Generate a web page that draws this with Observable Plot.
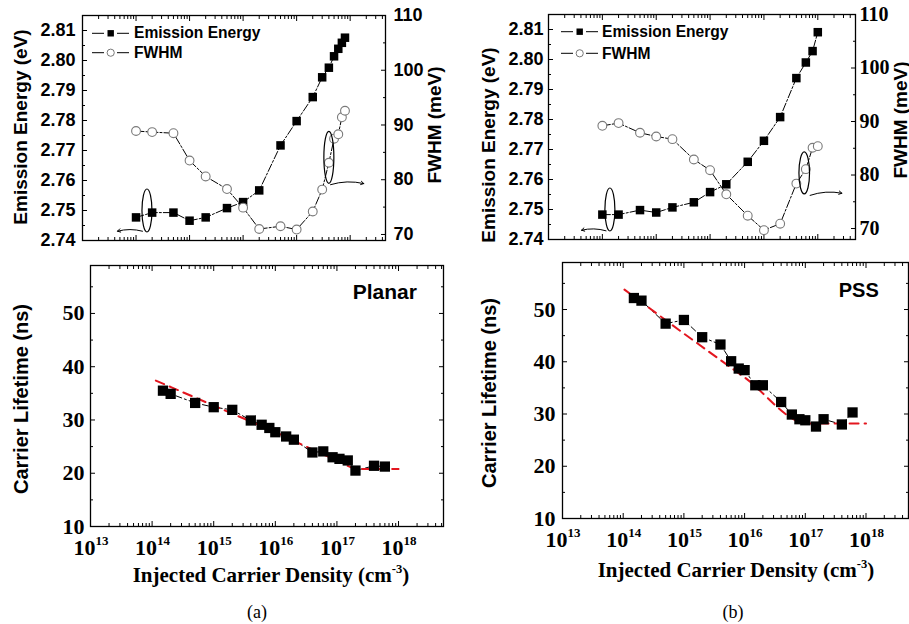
<!DOCTYPE html>
<html><head><meta charset="utf-8">
<script src="https://cdn.jsdelivr.net/npm/d3@7"></script>
<script src="https://cdn.jsdelivr.net/npm/@observablehq/plot@0.6"></script>
<style>
body{margin:0;background:#fff;}
#root{position:relative;width:909px;height:624px;overflow:hidden;background:#fff;}
#root svg{position:absolute;}
.t{position:absolute;white-space:nowrap;color:#000;line-height:1;}
.sans{font-family:"Liberation Sans",Arial,sans-serif;font-weight:bold;}
.serif{font-family:"Liberation Serif","Times New Roman",serif;font-weight:bold;}
.reg{font-family:"Liberation Serif","Times New Roman",serif;font-weight:normal;}
.rot{transform:translate(-50%,-50%) rotate(-90deg);}
.ctr{transform:translate(-50%,-50%);}
sup{font-size:60%;vertical-align:0.7em;line-height:0;}
</style></head><body><div id="root"></div>
<script>
// ---------- data ----------
const densityTopA = [1e14,2e14,5e14,1e15,2e15,5e15,1e16,2e16,5e16,1e17,2e17,3e17,4e17,5e17,6e17,7e17,8e17];
const energyA = [2.7477,2.7493,2.7493,2.7466,2.7477,2.7508,2.7528,2.7567,2.7717,2.7798,2.7878,2.7944,2.7976,2.8014,2.8039,2.8059,2.8076];
const fwhmA = [88.9,88.7,88.5,83.5,80.6,78.3,74.9,71.0,71.5,70.9,74.2,78.2,83.1,87.5,88.3,91.4,92.6];

const densityTopB = [1e14,2e14,5e14,1e15,2e15,5e15,1e16,2e16,5e16,1e17,2e17,4e17,6e17,8e17,1e18];
const energyB = [2.7483,2.7483,2.7498,2.7490,2.7507,2.7524,2.7558,2.7584,2.7659,2.7729,2.7808,2.7938,2.7990,2.8028,2.8091];
const fwhmB = [89.2,89.7,87.9,87.2,86.7,82.9,80.9,76.4,72.4,69.7,70.9,78.4,81.1,85.1,85.4];

const densityBotA = [1.5e14,2e14,5e14,1e15,2e15,4e15,6e15,8e15,1e16,1.5e16,2e16,4e16,6e16,8.5e16,1.1e17,1.5e17,2e17,4e17,6e17];
const lifetimeA = [35.5,34.9,33.2,32.4,31.9,29.9,29.1,28.5,27.7,26.9,26.3,23.9,24.1,23.0,22.7,22.4,20.5,21.4,21.25];
const fitDensityA = [1.15e14,1e15,1e16,1e17,2.2e17,1e18];
const fitLifetimeA = [37.4,32.7,27.7,22.4,20.8,20.8];

const densityBotB = [1.5e14,2e14,5e14,1e15,2e15,4e15,6e15,8e15,1e16,1.5e16,2e16,4e16,6e16,8e16,1e17,1.5e17,2e17,4e17,6e17];
const lifetimeB = [52.2,51.7,47.3,48.0,44.7,43.3,40.1,38.7,38.4,35.5,35.5,32.3,29.9,29.0,28.8,27.6,29.0,28.0,30.3];
const fitDensityB = [1.05e14,1e15,1e16,1.1e17,1e18];
const fitLifetimeB = [53.8,45.4,37.0,28.2,28.2];

// annotation anchors (data coordinates)
const ellipseLeftA = [{x: 1.6e14, y: 2.750}];
const arrowLeftA = [{x1: 1.32e14, y1: 2.7431, x2: 4.5e13, y2: 2.7431}];
const ellipseRightA = [{x: 4.0e17, y: 84.1}];
const arrowRightA = [{x1: 4.3e17, y1: 79.1, x2: 1.8e18, y2: 79.3}];
const ellipseLeftB = [{x: 1.38e14, y: 2.750}];
const arrowLeftB = [{x1: 1.17e14, y1: 2.7429, x2: 4.1e13, y2: 2.7431}];
const ellipseRightB = [{x: 5.6e17, y: 80.4}];
const arrowRightB = [{x1: 7.2e17, y1: 76.2, x2: 2.8e18, y2: 76.6}];

// ticks
const decades = [1e13,1e14,1e15,1e16,1e17,1e18];
const minorMult = [2,3,4,5,6,7,8,9];
const energyTicks = [2.74,2.75,2.76,2.77,2.78,2.79,2.80,2.81];
const energyMinor = [2.745,2.755,2.765,2.775,2.785,2.795,2.805];
const fwhmTicks = [70,80,90,100,110];
const fwhmMinor = [75,85,95,105];
const lifeTicks = [10,20,30,40,50];
const lifeMinor = [15,25,35,45,55];
const planarLabel = [{x: 6.0e17, y: 53.9, text: "Planar"}];
const pssLabel = [{x: 7.6e17, y: 53.6, text: "PSS"}];

// ---------- helpers ----------
const SANS = "Liberation Sans, Arial, sans-serif";
const SERIF = "Liberation Serif, Times New Roman, serif";
const root = document.getElementById("root");
const minorX = (maxExp) => decades.flatMap(d => minorMult.map(m => m * d)).filter(v => Math.log10(v) < maxExp);

function ellipseSymbol(rx, ry) {
  const k = 0.5523;
  return {draw(c) {
    c.moveTo(0, -ry);
    c.bezierCurveTo(k*rx, -ry, rx, -k*ry, rx, 0);
    c.bezierCurveTo(rx, k*ry, k*rx, ry, 0, ry);
    c.bezierCurveTo(-k*rx, ry, -rx, k*ry, -rx, 0);
    c.bezierCurveTo(-rx, -k*ry, -k*rx, -ry, 0, -ry);
    c.closePath();
  }};
}

function xFrameTicks(maxExp) {
  const mn = minorX(maxExp);
  return [
    Plot.axisX({anchor: "bottom", ticks: decades, tickSize: -5, fill: "none", label: null}),
    Plot.axisX({anchor: "bottom", ticks: mn, tickSize: -3, fill: "none", label: null}),
    Plot.axisX({anchor: "top", ticks: decades, tickSize: -5, fill: "none", label: null}),
    Plot.axisX({anchor: "top", ticks: mn, tickSize: -3, fill: "none", label: null})
  ];
}
function yTicks(anchor, major, minor) {
  return [
    Plot.axisY({anchor, ticks: major, tickSize: -5, fill: "none", label: null}),
    Plot.axisY({anchor, ticks: minor, tickSize: -3, fill: "none", label: null})
  ];
}
function place(svg, left, top) {
  svg.style.left = left + "px";
  svg.style.top = top + "px";
  root.appendChild(svg);
}
const baseStyle = {background: "transparent", overflow: "visible", color: "#000"};

// ---------- top panels ----------
function topPanel(cfg) {
  const common = {
    width: cfg.width, height: 260,
    marginLeft: cfg.ml, marginRight: cfg.mr, marginTop: cfg.mt, marginBottom: cfg.mb,
    x: {type: "log", domain: [1e13, Math.pow(10, cfg.maxExp)], axis: null}
  };
  const eData = cfg.density.map((d, i) => ({x: d, y: cfg.energy[i]}));
  const fData = cfg.density.map((d, i) => ({x: d, y: cfg.fwhm[i]}));
  const pE = Plot.plot({
    ...common,
    y: {domain: [2.74, 2.815]},
    style: {...baseStyle, fontFamily: SANS, fontSize: "18px", fontWeight: "bold"},
    marks: [
      ...xFrameTicks(cfg.maxExp),
      ...yTicks("left", energyTicks, energyMinor),
      Plot.axisY({anchor: "left", ticks: energyTicks, tickSize: 0, tickPadding: cfg.padL, tickFormat: d3.format(".2f"), label: null, fontSize: 18, fontWeight: "bold", fontFamily: SANS}),
      Plot.line(eData, {x: "x", y: "y", stroke: "#000", strokeWidth: 1, strokeDasharray: "8,2,2,2"}),
      Plot.dot(eData, {x: "x", y: "y", symbol: "square", r: 4.8, fill: "#000", stroke: "none"}),
      Plot.dot(cfg.ellL, {x: "x", y: "y", symbol: ellipseSymbol(5, 21.5), stroke: "#000", fill: "none", strokeWidth: 1.2}),
      Plot.arrow(cfg.arrL, {x1: "x1", y1: "y1", x2: "x2", y2: "y2", bend: -15, headLength: 5, strokeWidth: 1, stroke: "#000"}),
      Plot.frame({stroke: "#000", strokeWidth: 1.3})
    ]
  });
  const pF = Plot.plot({
    ...common,
    y: {domain: cfg.fDomain},
    style: {...baseStyle, fontFamily: cfg.rightFont, fontSize: cfg.rightSize + "px", fontWeight: "bold"},
    marks: [
      ...yTicks("right", fwhmTicks, fwhmMinor),
      Plot.axisY({anchor: "right", ticks: fwhmTicks, tickSize: 0, tickPadding: cfg.padR, label: null, fontSize: cfg.rightSize, fontWeight: "bold", fontFamily: cfg.rightFont}),
      Plot.line(fData, {x: "x", y: "y", stroke: "#000", strokeWidth: 1, strokeDasharray: "8,2,2,2"}),
      Plot.dot(fData, {x: "x", y: "y", r: 4.4, fill: "#fff", stroke: "#7a7a7a", strokeWidth: 1.1}),
      Plot.dot(cfg.ellR, {x: "x", y: "y", symbol: ellipseSymbol(cfg.erx, cfg.ery), stroke: "#000", fill: "none", strokeWidth: 1.2}),
      Plot.arrow(cfg.arrR, {x1: "x1", y1: "y1", x2: "x2", y2: "y2", bend: 15, headLength: 5, strokeWidth: 1, stroke: "#000"})
    ]
  });
  place(pE, cfg.left, 0);
  place(pF, cfg.left, 0);
}

topPanel({left: 0, width: 450, ml: 82, mr: 65, mt: 15, mb: 20, maxExp: 18.66, padL: 7, padR: 8,
  density: densityTopA, energy: energyA, fwhm: fwhmA, fDomain: [68.9, 110],
  rightFont: SANS, rightSize: 18, ellL: ellipseLeftA, arrL: arrowLeftA,
  ellR: ellipseRightA, arrR: arrowRightA, erx: 5, ery: 26});
topPanel({left: 450, width: 459, ml: 98, mr: 54, mt: 14, mb: 21, maxExp: 18.7, padL: 5, padR: 4,
  density: densityTopB, energy: energyB, fwhm: fwhmB, fDomain: [67.95, 110],
  rightFont: SERIF, rightSize: 20, ellL: ellipseLeftB, arrL: arrowLeftB,
  ellR: ellipseRightB, arrR: arrowRightB, erx: 5.3, ery: 21});

// ---------- bottom panels ----------
function bottomPanel(cfg) {
  const data = cfg.density.map((d, i) => ({x: d, y: cfg.life[i]}));
  const fit = cfg.fitX.map((d, i) => ({x: d, y: cfg.fitY[i]}));
  const p = Plot.plot({
    width: cfg.width, height: 320,
    marginLeft: cfg.ml, marginRight: cfg.mr, marginTop: cfg.mt, marginBottom: cfg.mb,
    x: {type: "log", domain: [1e13, Math.pow(10, cfg.maxExp)]},
    y: {domain: [10, 59]},
    style: {...baseStyle, fontFamily: SERIF, fontSize: "22px", fontWeight: "bold"},
    marks: [
      ...xFrameTicks(cfg.maxExp),
      Plot.axisX({anchor: "bottom", ticks: decades, tickSize: 0, tickPadding: 13, tickFormat: () => "10", dx: -6, label: null, fontSize: 22, fontWeight: "bold", fontFamily: SERIF}),
      Plot.axisX({anchor: "bottom", ticks: decades, tickSize: 0, tickPadding: 9, tickFormat: d => String(Math.round(Math.log10(d))), textAnchor: "start", dx: 5, label: null, fontSize: 13, fontWeight: "bold", fontFamily: SERIF}),
      ...yTicks("left", lifeTicks, lifeMinor),
      ...yTicks("right", lifeTicks, lifeMinor),
      Plot.axisY({anchor: "left", ticks: lifeTicks, tickSize: 0, tickPadding: cfg.padL, label: null, fontSize: 22, fontWeight: "bold", fontFamily: SERIF}),
      Plot.line(data, {x: "x", y: "y", stroke: "#000", strokeWidth: 1, strokeDasharray: "6,3,2,3"}),
      Plot.line(fit, {x: "x", y: "y", stroke: "#e3161f", strokeWidth: 2, strokeDasharray: "9,6", curve: "monotone-x"}),
      Plot.dot(data, {x: "x", y: "y", symbol: "square", r: 5.8, fill: "#000", stroke: "none"}),
      Plot.text(cfg.label, {x: "x", y: "y", text: "text", fontFamily: SANS, fontWeight: "bold", fontSize: cfg.labelSize, fill: "#000"}),
      Plot.frame({stroke: "#000", strokeWidth: 1.3})
    ]
  });
  place(p, cfg.left, 250);
}
bottomPanel({left: 0, width: 450, ml: 90, mr: 7, mt: 15, mb: 44, maxExp: 18.73, padL: 6,
  density: densityBotA, life: lifetimeA, fitX: fitDensityA, fitY: fitLifetimeA, label: planarLabel, labelSize: 21});
bottomPanel({left: 450, width: 459, ml: 112, mr: 1, mt: 12, mb: 52, maxExp: 18.7, padL: 7,
  density: densityBotB, life: lifetimeB, fitX: fitDensityB, fitY: fitLifetimeB, label: pssLabel, labelSize: 20});

// ---------- HTML text: titles, legends, captions ----------
function addText(html, cls, left, top, size) {
  const d = document.createElement("div");
  d.className = "t " + cls;
  d.style.left = left + "px";
  d.style.top = top + "px";
  d.style.fontSize = size + "px";
  d.innerHTML = html;
  root.appendChild(d);
}
addText("Emission Energy (eV)", "sans rot", 20, 127, 19);
addText("FWHM (meV)", "sans rot", 434, 125, 19);
addText("Emission Energy (eV)", "sans rot", 488, 145, 19);
addText("FWHM (meV)", "sans rot", 900, 120, 19);
addText("Carrier Lifetime (ns)", "sans rot", 21, 399, 20);
addText("Carrier Lifetime (ns)", "sans rot", 489, 393, 20);
addText("Injected Carrier Density (cm<sup>-3</sup>)", "serif ctr", 271, 575, 21);
addText("Injected Carrier Density (cm<sup>-3</sup>)", "serif ctr", 736, 570, 21);
addText("(a)", "reg ctr", 257, 612, 18);
addText("(b)", "reg ctr", 733, 612, 18);

function legend(left, top, y1, y2) {
  const ns = "http://www.w3.org/2000/svg";
  const svg = document.createElementNS(ns, "svg");
  svg.setAttribute("width", 40); svg.setAttribute("height", 40);
  svg.style.left = left + "px"; svg.style.top = top + "px";
  svg.innerHTML =
    `<line x1="0" x2="12" y1="${y1}" y2="${y1}" stroke="#000" stroke-width="1"/>` +
    `<line x1="25" x2="37" y1="${y1}" y2="${y1}" stroke="#000" stroke-width="1"/>` +
    `<rect x="15.5" y="${y1-3.2}" width="6.4" height="6.4" fill="#000"/>` +
    `<line x1="0" x2="12" y1="${y2}" y2="${y2}" stroke="#000" stroke-width="1"/>` +
    `<line x1="25" x2="37" y1="${y2}" y2="${y2}" stroke="#000" stroke-width="1"/>` +
    `<circle cx="18.7" cy="${y2}" r="3.6" fill="#fff" stroke="#7a7a7a" stroke-width="1"/>`;
  root.appendChild(svg);
}
legend(92, 20, 13.3, 32.7);
legend(561, 18, 13.7, 35.3);
addText("Emission Energy", "sans", 134, 25, 15.6);
addText("FWHM", "sans", 134, 45, 15.6);
addText("Emission Energy", "sans", 602, 24, 15.6);
addText("FWHM", "sans", 602, 46, 15.6);
</script>
</body></html>
